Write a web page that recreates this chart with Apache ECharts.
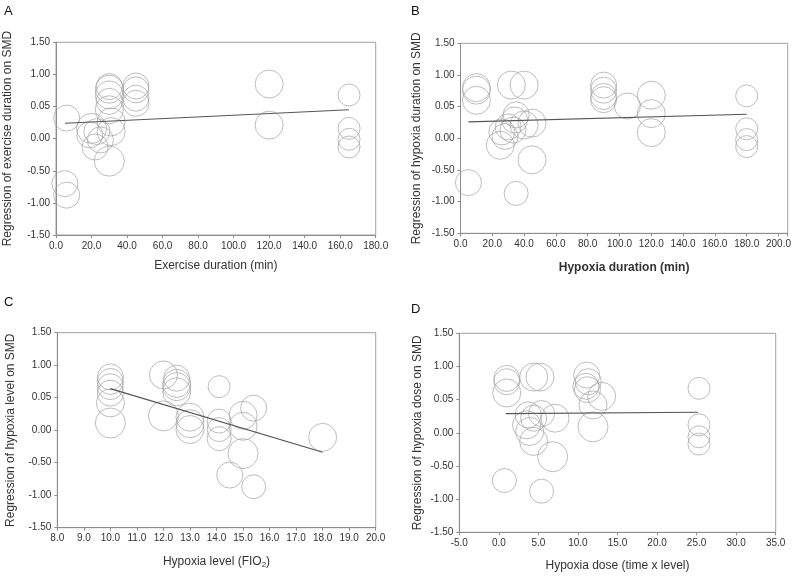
<!DOCTYPE html>
<html>
<head>
<meta charset="utf-8">
<script src="https://cdn.jsdelivr.net/npm/echarts@6/dist/echarts.min.js"></script>
<style>
html,body{margin:0;padding:0;background:#fff;}
#chart{width:796px;height:576px;}
</style>
</head>
<body>
<div id="chart"></div>
<script>
// ---- Data ----
const yTickLabels = ['-1.50', '-1.00', '-0.50', '0.00', '0.05', '1.00', '1.50'];

// Panel A: exercise duration (min)
const aX = [6, 5, 6, 20, 19, 23, 25, 22, 30, 30, 30, 30, 30, 30, 31, 31, 45, 45, 45, 45, 120, 120, 165, 165, 165, 165];
const aY = [0.32, -0.70, -0.88, 0.16, 0.06, 0.11, -0.02, -0.13, -0.35, 0.81, 0.77, 0.68, 0.58, 0.45, 0.26, 0.11, 0.82, 0.76, 0.63, 0.55, 0.85, 0.21, 0.68, 0.16, -0.01, -0.13];
const aW = [13, 13, 13, 15, 13, 13, 13, 13, 15, 13, 14, 14, 13, 14, 14, 14, 13, 13, 13, 13, 14, 14, 11, 11, 11, 11];
const aTrend = [[5, 0.24], [165, 0.45]];

// Panel B: hypoxia duration (min)
const bX = [5, 10, 10, 10, 32, 40, 35, 45, 35, 34, 45, 40, 30, 33, 26, 28, 25, 90, 90, 90, 90, 105, 120, 120, 120, 180, 180, 180, 180];
const bY = [-0.70, 0.80, 0.76, 0.60, 0.84, 0.84, -0.87, -0.34, 0.37, 0.29, 0.24, 0.21, 0.18, 0.13, 0.10, 0.03, -0.11, 0.84, 0.76, 0.66, 0.61, 0.51, 0.68, 0.39, 0.09, 0.67, 0.15, -0.02, -0.13];
const bW = [13, 14, 14, 14, 14, 14, 12, 14, 13, 13, 14, 14, 13, 13, 13, 13, 14, 13, 13, 13, 13, 13, 14, 14, 14, 11, 11, 11, 11];
const bTrend = [[5, 0.26], [180, 0.38]];

// Panel C: hypoxia level (FIO2)
const cX = [10, 10, 10, 10, 10, 10, 12, 12, 12.5, 12.5, 12.5, 12.5, 13, 13, 13, 14.1, 14.1, 14.1, 14.1, 15, 15.4, 15, 15, 14.5, 15.4, 18];
const cY = [0.82, 0.75, 0.67, 0.57, 0.42, 0.11, 0.85, 0.22, 0.80, 0.72, 0.67, 0.59, 0.20, 0.10, 0.01, 0.67, 0.14, 0.01, -0.13, 0.23, 0.34, 0.06, -0.36, -0.69, -0.87, -0.11];
const cW = [13, 13, 13, 13, 14, 15, 14, 15, 13, 14, 14, 14, 14, 14, 14, 11, 12, 12, 12, 14, 13, 14, 15, 13, 12, 14];
const cTrend = [[10, 0.64], [18, -0.34]];

// Panel D: hypoxia dose (time x level)
const dX = [1, 1, 1, 0.7, 4.4, 5.2, 5.4, 6.8, 3.7, 4.4, 3.5, 3.9, 4.4, 5.4, 7.1, 11.1, 11.3, 11, 11.2, 13, 11.9, 11.9, 25.3, 25.3, 25.3, 25.3];
const dY = [0.82, 0.77, 0.60, -0.72, 0.84, 0.84, -0.88, -0.36, 0.27, 0.22, 0.12, 0.02, -0.13, 0.29, 0.22, 0.87, 0.77, 0.70, 0.65, 0.55, 0.42, 0.09, 0.67, 0.12, -0.06, -0.17];
const dW = [13, 13, 14, 12, 14, 14, 12, 15, 13, 13, 14, 14, 14, 13, 14, 13, 13, 13, 13, 14, 14, 15, 11, 11, 11, 11];
const dTrend = [[0.9, 0.29], [25.2, 0.31]];

// ---- Chart ----
const chart = echarts.init(document.getElementById('chart'), null, {renderer: 'canvas'});
const FONT = 'Liberation Sans, Arial, sans-serif';
const AXC = '#8c8c8c';

function pts(xs, ys, ws) { return xs.map((x, i) => [x, ys[i], ws[i]]); }

const grids = [
  {left: 56, top: 42.3, width: 319.7, height: 192.7},
  {left: 460.5, top: 43.3, width: 327.2, height: 190},
  {left: 57.3, top: 332.7, width: 318.4, height: 195},
  {left: 459.3, top: 333.3, width: 316.4, height: 199}
].map(g => Object.assign({show: true, borderColor: '#a0a0a0', borderWidth: 1, containLabel: false}, g));

function xAxisCfg(idx, min, max, interval, name, gap, nameStyle) {
  return {
    type: 'value', gridIndex: idx, min: min, max: max, interval: interval,
    name: name, nameLocation: 'middle', nameGap: gap,
    nameTextStyle: Object.assign({fontFamily: FONT, fontSize: 12, color: '#333'}, nameStyle || {}),
    axisLine: {show: true, onZero: false, lineStyle: {color: AXC}},
    axisTick: {show: true, length: 3, lineStyle: {color: AXC}},
    splitLine: {show: false},
    axisLabel: {
      fontFamily: FONT, fontSize: 10, color: '#333', margin: 6,
      formatter: v => {
        const k = Math.round((v - min) / interval);
        if (Math.abs(min + k * interval - v) > 1e-6) return '';
        return v.toFixed(1);
      }
    }
  };
}
function yAxisCfg(idx, name, gap) {
  return {
    type: 'value', gridIndex: idx, min: -1.5, max: 1.5, interval: 0.5,
    name: name, nameLocation: 'middle', nameGap: gap, nameRotate: 90,
    nameTextStyle: {fontFamily: FONT, fontSize: 12, color: '#333'},
    axisLine: {show: true, onZero: false, lineStyle: {color: AXC}},
    axisTick: {show: true, length: 3, lineStyle: {color: AXC}},
    splitLine: {show: false},
    axisLabel: {
      fontFamily: FONT, fontSize: 10, color: '#333', margin: 6,
      formatter: v => yTickLabels[Math.round((v + 1.5) / 0.5)]
    }
  };
}

function scatter(idx, data) {
  return {
    type: 'scatter', xAxisIndex: idx, yAxisIndex: idx, data: data,
    symbol: 'circle', symbolSize: d => d[2] * 2,
    itemStyle: {color: 'rgba(0,0,0,0)', borderColor: '#a3a3a3', borderWidth: 0.9},
    silent: true, z: 2
  };
}
function trend(idx, data) {
  return {
    type: 'line', xAxisIndex: idx, yAxisIndex: idx, data: data,
    symbol: 'none', lineStyle: {color: '#555', width: 1.2}, silent: true, z: 3
  };
}

const letterStyle = {fontFamily: FONT, fontSize: 13, color: '#111', fontWeight: 'normal'};

chart.setOption({
  animation: false,
  backgroundColor: '#fff',
  title: [
    {text: 'A', left: 4, top: 5, padding: 0, textStyle: letterStyle},
    {text: 'B', left: 411, top: 5, padding: 0, textStyle: letterStyle},
    {text: 'C', left: 4, top: 296, padding: 0, textStyle: letterStyle},
    {text: 'D', left: 411, top: 303, padding: 0, textStyle: letterStyle}
  ],
  grid: grids,
  xAxis: [
    xAxisCfg(0, 0, 180, 20, 'Exercise duration (min)', 25),
    xAxisCfg(1, 0, 205.8, 20, 'Hypoxia duration (min)', 28, {fontWeight: 'bold'}),
    xAxisCfg(2, 8, 20, 1, 'Hypoxia level (FIO{s|2})', 27),
    xAxisCfg(3, -5, 35, 5, 'Hypoxia dose (time x level)', 27)
  ],
  yAxis: [
    yAxisCfg(0, 'Regression of exercise duration on SMD', 42),
    yAxisCfg(1, 'Regression of hypoxia duration on SMD', 38),
    yAxisCfg(2, 'Regression of hypoxia level on SMD', 41),
    yAxisCfg(3, 'Regression of hypoxia dose on SMD', 36)
  ],
  series: [
    scatter(0, pts(aX, aY, aW)), trend(0, aTrend),
    scatter(1, pts(bX, bY, bW)), trend(1, bTrend),
    scatter(2, pts(cX, cY, cW)), trend(2, cTrend),
    scatter(3, pts(dX, dY, dW)), trend(3, dTrend)
  ]
});
// subscript for FIO2
chart.setOption({
  xAxis: [{}, {}, {nameTextStyle: {rich: {s: {fontFamily: FONT, fontSize: 8, color: '#333', verticalAlign: 'bottom', padding: [6, 0, 0, 0]}}}}, {}]
});
</script>
</body>
</html>
